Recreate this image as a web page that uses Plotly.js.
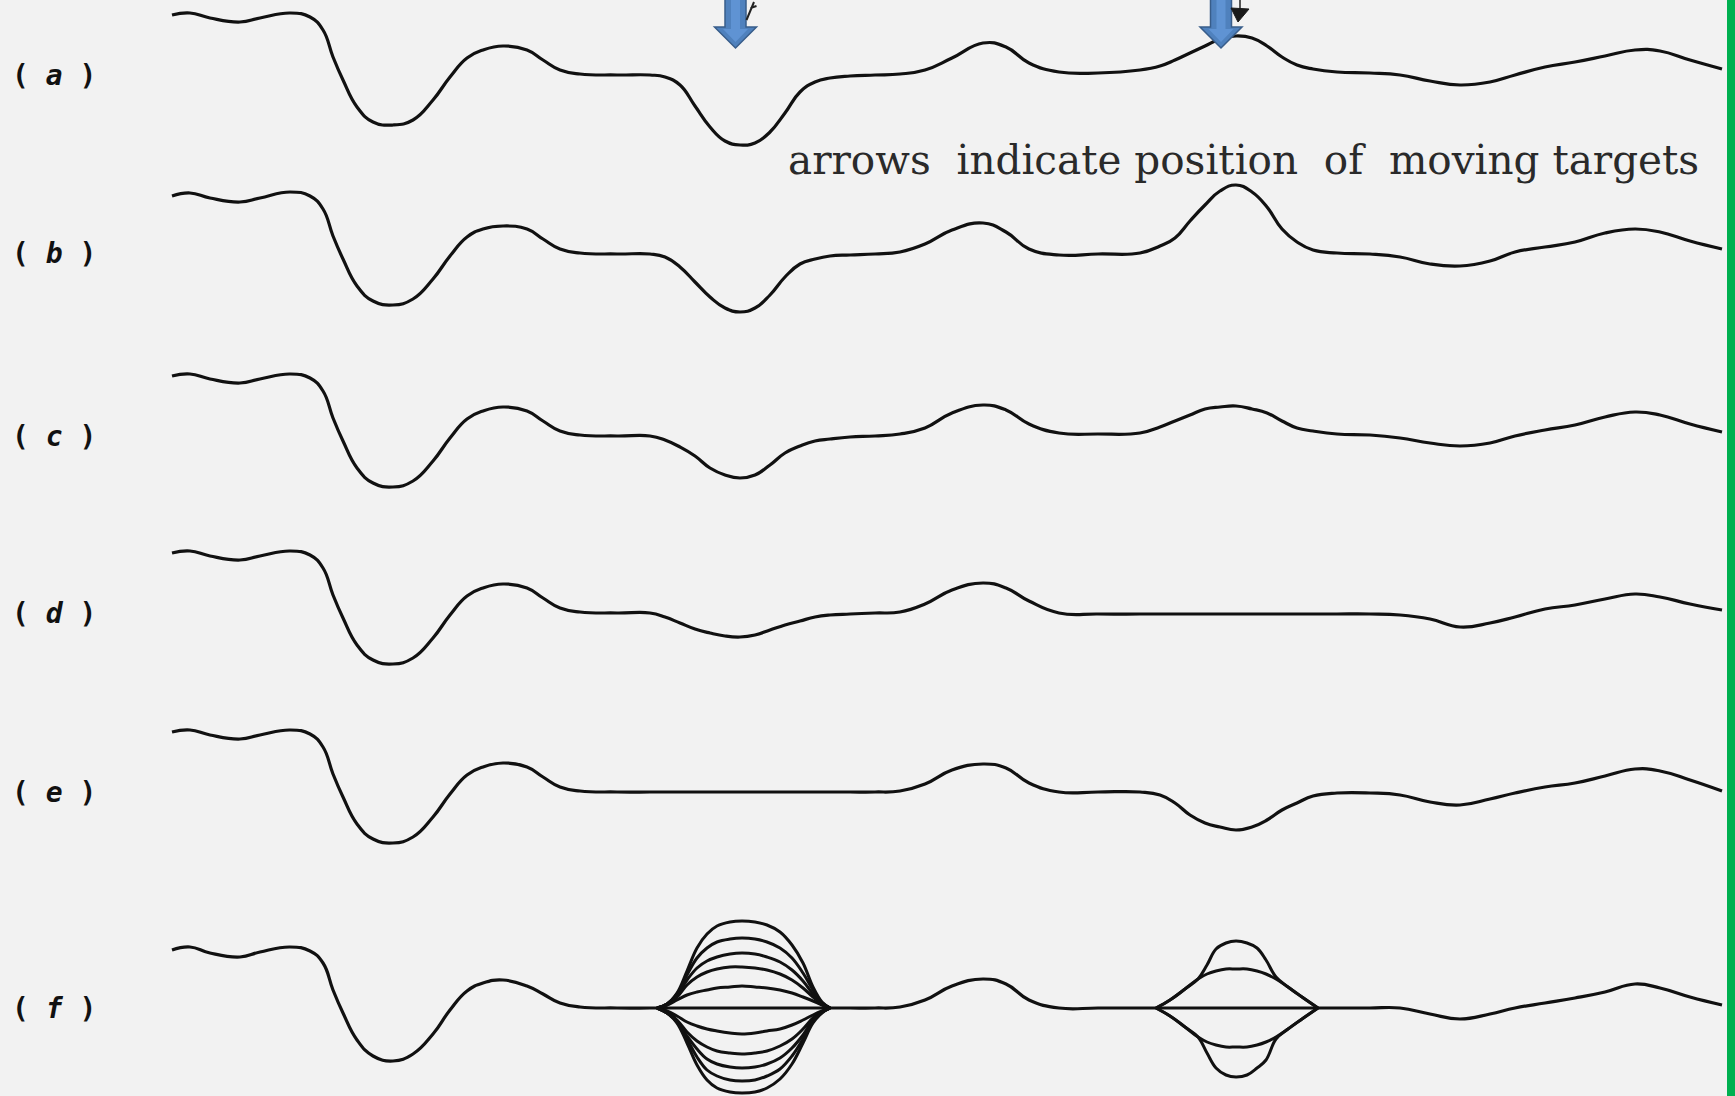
<!DOCTYPE html>
<html>
<head>
<meta charset="utf-8">
<script src="https://cdn.plot.ly/plotly-3.0.1.min.js"></script>
<style>
  html, body { margin: 0; padding: 0; background: #f2f2f2; }
  #chart { width: 1735px; height: 1096px; }
</style>
</head>
<body>
<div id="chart"></div>
<script>
// ---------- DATA ----------
// Range positions (common sampling grid for the six returns)
const rangeX = [17.2, 19.0, 21.0, 24.0, 26.0, 29.0, 31.0, 32.3, 33.3, 34.3, 35.7, 37.3, 39.3, 41.3, 43.3, 45.0, 46.7, 48.3, 50.3, 52.7, 54.3, 56.0, 58.0, 61.7, 65.0,
  66.5, 68.0, 69.5, 71.0, 72.5, 74.0, 75.5, 77.0, 78.5, 80.0, 81.5, 83.0, 85.0,
  87.5, 90.0, 92.5, 95.2, 98.3, 100.6, 102.9, 105.9, 109.8,
  114.0, 116.0, 117.5, 119.0, 120.5, 122.0, 123.6, 125.2, 126.7, 128.2, 129.7, 131.3, 133.7,
  137.0, 140.0, 143.0, 146.0, 149.0, 151.5, 154.5, 157.5, 160.5, 163.5, 166.0, 169.0, 172.2];

// (a)
const returnA = [60, 62, 57, 53, 57, 62, 58, 45, 18, -5, -32, -47, -50, -45, -25, -2, 17, 25, 29, 25, 15, 5, 1, 0, 0,
  -2, -10, -31, -52, -66, -70, -68, -57, -38, -17, -7, -3, -1,
  0, 1, 5, 17, 32, 28, 12, 3, 2,
  5, 9, 15, 22, 29, 36, 39, 37, 29, 18, 10, 6, 3,
  2, 0, -6, -10, -7, 0, 8, 13, 19, 25, 24, 15, 6];
// (b)
const returnB = [58, 61, 56, 52, 56, 62, 58, 45, 18, -5, -32, -47, -51, -45, -25, -2, 17, 25, 28, 25, 15, 5, 1, 0, 0,
  -3, -13, -28, -43, -54, -58, -54, -41, -23, -10, -5, -2, -1,
  0, 2, 10, 24, 31, 22, 5, -1, 0,
  1, 8, 16, 33, 49, 63, 69, 62, 47, 25, 12, 4, 1,
  0, -3, -10, -12, -7, 2, 7, 12, 21, 25, 22, 13, 5];
// (c)
const returnC = [60, 62, 57, 53, 57, 62, 58, 45, 18, -5, -32, -47, -51, -45, -25, -2, 17, 25, 29, 25, 15, 5, 1, 0, 0,
  -4, -11, -20, -32, -39, -42, -39, -29, -17, -10, -5, -3, -1,
  0, 2, 8, 23, 31, 26, 12, 3, 2,
  3, 9, 15, 21, 27, 29, 30, 27, 23, 15, 8, 5, 2,
  1, -2, -7, -10, -7, 0, 6, 11, 19, 24, 21, 12, 4];
// (d)
const returnD = [60, 62, 57, 53, 57, 62, 58, 45, 18, -5, -32, -47, -51, -45, -25, -2, 17, 25, 29, 25, 15, 5, 1, 0, 0,
  -4, -10, -16, -20, -23, -24, -22, -17, -12, -8, -4, -2, -1,
  0, 1, 9, 23, 30, 25, 12, 0, -1,
  -1, -1, -1, -1, -1, -1, -1, -1, -1, -1, -1, -1, -1,
  -1, -2, -6, -14, -10, -4, 4, 8, 14, 19, 16, 9, 3];
// (e)
const returnE = [60, 62, 57, 53, 57, 62, 58, 45, 18, -5, -32, -47, -51, -45, -25, -2, 17, 25, 29, 25, 15, 5, 1, 0, 0,
  0, 0, 0, 0, 0, 0, 0, 0, 0, 0, 0, 0, 0,
  0, 1, 8, 22, 28, 24, 9, 0, 0,
  0, -3, -11, -23, -31, -35, -38, -35, -28, -18, -11, -4, -1,
  -1, -3, -10, -13, -7, -1, 5, 9, 16, 23, 21, 12, 1];
// (f) common part
const returnF = [58, 61, 55, 51, 56, 61, 57, 45, 18, -5, -32, -48, -53, -46, -26, -2, 17, 25, 28, 22, 14, 5, 1, 0, 0,
  0, 0, 0, 0, 0, 0, 0, 0, 0, 0, 0, 0, 0,
  0, 1, 8, 22, 29, 24, 8, 0, 0,
  0, 0, 0, 0, 0, 0, 0, 0, 0, 0, 0, 0, 0,
  0, 0, -6, -11, -6, 0, 5, 10, 16, 24, 20, 11, 3];

// (f) superposed returns at target 1
const fan1X = [65.7, 66.7, 67.7, 68.7, 69.7, 70.7, 71.7, 73.0, 74.2, 75.5, 76.7, 78.0, 79.2, 80.3, 81.3, 82.2, 83.0];
const fan1Up5 = [0, 4, 15, 37, 60, 74, 82, 86, 87, 86, 83, 76, 63, 45, 21, 6, 0];
const fan1Up4 = [0, 4, 14, 33, 50, 60, 66, 69, 70, 69, 66, 60, 50, 35, 18, 5, 0];
const fan1Up3 = [0, 4, 13, 28, 40, 47, 51, 54, 55, 54, 51, 46, 38, 27, 14, 5, 0];
const fan1Up2 = [0, 3, 11, 23, 31, 36, 39, 41, 41, 40, 38, 34, 28, 20, 11, 4, 0];
const fan1Up1 = [0, 3, 8, 13, 16, 18, 20, 21, 22, 21, 20, 18, 15, 11, 7, 3, 0];
const fan1Dn1 = [0, -3, -8, -14, -18, -21, -23, -25, -26, -25, -23, -21, -17, -12, -7, -3, 0];
const fan1Dn2 = [0, -4, -12, -24, -33, -39, -43, -45, -46, -45, -43, -38, -31, -21, -10, -4, 0];
const fan1Dn3 = [0, -5, -13, -28, -41, -51, -56, -59, -60, -59, -56, -50, -40, -27, -12, -4, 0];
const fan1Dn4 = [0, -5, -14, -31, -49, -62, -68, -72, -73, -72, -68, -61, -48, -31, -13, -4, 0];
const fan1Dn5 = [0, -5, -15, -35, -57, -72, -80, -84, -85, -84, -80, -71, -56, -35, -15, -5, 0];

// (f) superposed returns at target 2
const fan2X = [115.6, 117.0, 118.5, 119.8, 120.7, 121.6, 122.6, 123.6, 124.7, 125.7, 126.6, 127.6, 128.8, 130.2, 131.8];
const fan2Up2 = [0, 8, 19, 29, 43, 59, 65, 67, 65, 60, 48, 31, 21, 11, 0];
const fan2Up1 = [0, 8, 19, 29, 34, 37, 39, 39, 39, 37, 34, 29, 21, 11, 0];
const fan2Dn1 = [0, -8, -19, -29, -34, -37, -39, -39, -39, -37, -34, -29, -21, -11, 0];
const fan2Dn2 = [0, -8, -19, -29, -45, -60, -67, -69, -67, -60, -52, -31, -21, -11, 0];

const rowLabels = ['a', 'b', 'c', 'd', 'e', 'f'];
const targetArrowX = [73.55, 122.1];
const noteText = 'arrows\u00a0 indicate position\u00a0 of\u00a0 moving targets';

// ---------- LAYOUT ----------
const W = 1735, H = 1096;
const rowBaselinePx = [75, 254, 436, 613, 792, 1008];
const halfPx = 112;

const layout = {
  width: W, height: H,
  margin: { l: 0, r: 0, t: 0, b: 0 },
  paper_bgcolor: '#f2f2f2',
  plot_bgcolor: 'rgba(0,0,0,0)',
  showlegend: false,
  xaxis: { domain: [0, 1], range: [0, W / 10], visible: false, fixedrange: true },
  annotations: [],
  shapes: []
};

rowBaselinePx.forEach((b, i) => {
  const top = Math.max(0, b - halfPx), bot = Math.min(H, b + halfPx);
  const key = i === 0 ? 'yaxis' : 'yaxis' + (i + 1);
  layout[key] = {
    domain: [1 - bot / H, 1 - top / H],
    range: [-(bot - b), b - top],
    visible: false, anchor: 'x', fixedrange: true
  };
  layout.annotations.push({
    xref: 'paper', yref: 'paper',
    x: 54 / W, y: 1 - b / H, xanchor: 'center', yanchor: 'middle',
    text: '(\u00a0<i>' + rowLabels[i] + '</i>\u00a0)',
    showarrow: false,
    font: { family: 'DejaVu Sans Mono', size: 28, color: '#111', weight: 'bold' }
  });
});

layout.annotations.push({
  xref: 'paper', yref: 'paper',
  x: 786 / W, y: 1 - 186 / H, xanchor: 'left', yanchor: 'bottom',
  text: noteText, showarrow: false,
  font: { family: 'DejaVu Serif', size: 40.5, color: '#2a2a2a' }
});

// blue block arrows marking the targets
targetArrowX.forEach(cx => {
  const sw = 1.05, hw = 2.1, yTop = 1.02, yHead = 1 - 27 / H, yTip = 1 - 48 / H;
  layout.shapes.push({
    type: 'path', xref: 'x', yref: 'paper',
    path: `M ${cx - sw},${yTop} L ${cx + sw},${yTop} L ${cx + sw},${yHead} L ${cx + hw},${yHead} L ${cx},${yTip} L ${cx - hw},${yHead} L ${cx - sw},${yHead} Z`,
    fillcolor: '#4f81bd', line: { color: '#385d8a', width: 1.5 }
  });
  const isw = 0.45, ihw = 1.25, iHead = 1 - 29 / H, iTip = 1 - 42 / H;
  layout.shapes.push({
    type: 'path', xref: 'x', yref: 'paper',
    path: `M ${cx - isw},${yTop} L ${cx + isw},${yTop} L ${cx + isw},${iHead} L ${cx + ihw},${iHead} L ${cx},${iTip} L ${cx - ihw},${iHead} L ${cx - isw},${iHead} Z`,
    fillcolor: '#5f93d3', line: { width: 0 }
  });
});

// small black remnants of the original arrows
const cx1 = targetArrowX[0], cx2 = targetArrowX[1];
layout.shapes.push({
  type: 'path', xref: 'x', yref: 'paper',
  path: `M ${cx1 + 1.85},${1 - 2 / H} L ${cx1 + 1.1},${1 - 20 / H} M ${cx1 + 1.5},${1 - 8 / H} L ${cx1 + 2.1},${1 - 6 / H}`,
  line: { color: '#222', width: 2 }
});
layout.shapes.push({
  type: 'path', xref: 'x', yref: 'paper',
  path: `M ${cx2 + 1.9},${1.01} L ${cx2 + 1.9},${1 - 9 / H}`,
  line: { color: '#222', width: 1.5 }
});
layout.shapes.push({
  type: 'path', xref: 'x', yref: 'paper',
  path: `M ${cx2 + 1.0},${1 - 8 / H} L ${cx2 + 2.8},${1 - 9 / H} L ${cx2 + 1.7},${1 - 22 / H} Z`,
  fillcolor: '#1a1a1a', line: { color: '#1a1a1a', width: 1 }
});

// green edge bar
layout.shapes.push({
  type: 'rect', xref: 'paper', yref: 'paper',
  x0: 1727 / W, x1: 1.01, y0: -0.01, y1: 1.01,
  fillcolor: '#00b050', line: { width: 0 }
});

// ---------- TRACES ----------
const lineStyle = { color: '#111', width: 3.2, shape: 'spline', smoothing: 1.3 };
const rows = [returnA, returnB, returnC, returnD, returnE, returnF];
const traces = rows.map((ys, i) => ({
  type: 'scatter', mode: 'lines', x: rangeX, y: ys,
  xaxis: 'x', yaxis: i === 0 ? 'y' : 'y' + (i + 1),
  line: lineStyle, hoverinfo: 'skip'
}));
[fan1Up5, fan1Up4, fan1Up3, fan1Up2, fan1Up1, fan1Dn1, fan1Dn2, fan1Dn3, fan1Dn4, fan1Dn5].forEach(ys => {
  traces.push({ type: 'scatter', mode: 'lines', x: fan1X, y: ys, xaxis: 'x', yaxis: 'y6',
    line: { color: '#111', width: 3, shape: 'spline', smoothing: 1.1 }, hoverinfo: 'skip' });
});
[fan2Up2, fan2Up1, fan2Dn1, fan2Dn2].forEach(ys => {
  traces.push({ type: 'scatter', mode: 'lines', x: fan2X, y: ys, xaxis: 'x', yaxis: 'y6',
    line: { color: '#111', width: 3, shape: 'spline', smoothing: 1.1 }, hoverinfo: 'skip' });
});

Plotly.newPlot('chart', traces, layout, { displayModeBar: false, staticPlot: true });
</script>
</body>
</html>
